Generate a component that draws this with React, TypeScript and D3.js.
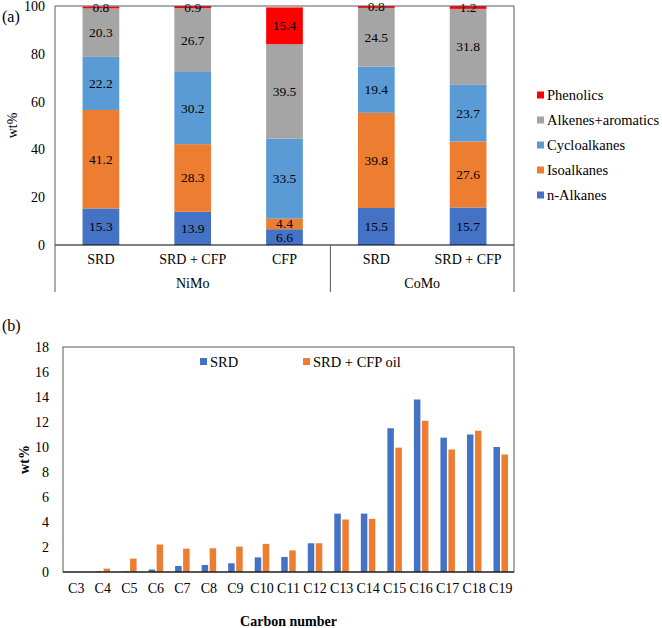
import React from "react";
import * as d3 from "d3";

const topCategories = ["SRD", "SRD + CFP", "CFP", "SRD", "SRD + CFP"];
const topGroups = ["NiMo", "NiMo", "NiMo", "CoMo", "CoMo"];
const seriesNames = ["n-Alkanes", "Isoalkanes", "Cycloalkanes", "Alkenes+aromatics", "Phenolics"];
const nAlkanes = [15.3, 13.9, 6.6, 15.5, 15.7];
const isoalkanes = [41.2, 28.3, 4.4, 39.8, 27.6];
const cycloalkanes = [22.2, 30.2, 33.5, 19.4, 23.7];
const alkenesAromatics = [20.3, 26.7, 39.5, 24.5, 31.8];
const phenolics = [0.8, 0.9, 15.4, 0.8, 1.2];
const topTicks = [0, 20, 40, 60, 80, 100];

const carbonLabels = ["C3", "C4", "C5", "C6", "C7", "C8", "C9", "C10", "C11", "C12", "C13", "C14", "C15", "C16", "C17", "C18", "C19"];
const srdValues = [0, 0.05, 0.05, 0.2, 0.48, 0.56, 0.7, 1.17, 1.2, 2.3, 4.67, 4.67, 11.5, 13.8, 10.75, 11.0, 10.0];
const srdCfpValues = [0, 0.27, 1.07, 2.2, 1.87, 1.9, 2.03, 2.25, 1.73, 2.3, 4.2, 4.25, 9.95, 12.1, 9.8, 11.3, 9.4];
const bottomTicks = [0, 2, 4, 6, 8, 10, 12, 14, 16, 18];

const seriesColors = ["#4472C4", "#ED7D31", "#5B9BD5", "#A5A5A5", "#FF0000"];
const FONT = "Liberation Serif";

function T(props: any) {
  return <text fontFamily={FONT} fill="#000" {...props} />;
}

export default function App() {
  // Top chart
  const tL = 55, tR = 514, tT = 6, tB = 245, tBottomExt = 292;
  const xTop = d3.scaleBand<number>().domain(d3.range(topCategories.length)).range([tL, tR]).paddingInner(0.6).paddingOuter(0.3);
  const yTop = d3.scaleLinear().domain([0, 100]).range([tB, tT]);
  const seriesArrays = [nAlkanes, isoalkanes, cycloalkanes, alkenesAromatics, phenolics];
  const rows = topCategories.map((_, i) => {
    const r: any = { i };
    seriesNames.forEach((s, k) => (r[s] = seriesArrays[k][i]));
    return r;
  });
  const stacked = d3.stack<any>().keys(seriesNames)(rows);
  const bandStep = (tR - tL) / topCategories.length;

  // Bottom chart
  const bL = 63, bR = 514, bT = 347, bB = 572;
  const xBot = d3.scaleBand<string>().domain(carbonLabels).range([bL, bR]);
  const yBot = d3.scaleLinear().domain([0, 18]).range([bB, bT]);
  const barW = 6.5;
  const gap = 1.5;

  const groupNames = ["NiMo", "CoMo"];
  const groupSpans = groupNames.map((g) => {
    const idx = topGroups.map((gg, i) => (gg === g ? i : -1)).filter((i) => i >= 0);
    return { g, start: tL + idx[0] * bandStep, end: tL + (idx[idx.length - 1] + 1) * bandStep };
  });

  return (
    <svg width={662} height={628} style={{ position: "absolute", left: 0, top: 0, background: "#fff" }}>
      <rect x={0} y={0} width={662} height={628} fill="#fff" />
      {/* ===== Top chart ===== */}
      <T x={2} y={22} fontSize={16}>(a)</T>
      <T transform={`translate(17,${(tT + tB) / 2}) rotate(-90)`} textAnchor="middle" fontSize={14}>wt%</T>
      {stacked.map((layer, k) => (
        <g key={k}>
          {layer.map((d, i) => (
            <rect key={i} x={xTop(i)!} width={xTop.bandwidth()} y={yTop(d[1])} height={yTop(d[0]) - yTop(d[1])} fill={seriesColors[k]} />
          ))}
        </g>
      ))}
      {stacked.map((layer, k) => (
        <g key={"l" + k}>
          {layer.map((d, i) => (
            <T key={i} x={xTop(i)! + xTop.bandwidth() / 2} y={yTop((d[0] + d[1]) / 2)} dy="0.33em" textAnchor="middle" fontSize={13.5}>
              {seriesArrays[k][i].toFixed(1)}
            </T>
          ))}
        </g>
      ))}
      {/* frame */}
      <line x1={tL} x2={tR} y1={tT} y2={tT} stroke="#595959" strokeWidth={1} />
      <line x1={tL} x2={tR} y1={tB} y2={tB} stroke="#000" strokeWidth={1} />
      <line x1={tL} x2={tL} y1={tT} y2={tBottomExt} stroke="#595959" strokeWidth={1} />
      <line x1={tR} x2={tR} y1={tT} y2={tBottomExt} stroke="#595959" strokeWidth={1} />
      {groupSpans.slice(0, -1).map((s, i) => (
        <line key={i} x1={s.end} x2={s.end} y1={tB} y2={tBottomExt} stroke="#595959" strokeWidth={1} />
      ))}
      {topTicks.map((t) => (
        <T key={t} x={tL - 10} y={yTop(t)} dy="0.35em" textAnchor="end" fontSize={14}>{t}</T>
      ))}
      {topCategories.map((c, i) => (
        <T key={i} x={xTop(i)! + xTop.bandwidth() / 2} y={264} textAnchor="middle" fontSize={14}>{c}</T>
      ))}
      {groupSpans.map((s) => (
        <T key={s.g} x={(s.start + s.end) / 2} y={288} textAnchor="middle" fontSize={14}>{s.g}</T>
      ))}
      {/* legend */}
      {seriesNames.slice().reverse().map((s, j) => {
        const k = seriesNames.length - 1 - j;
        const y = 95 + j * 25;
        return (
          <g key={s}>
            <rect x={537} y={y - 3.5} width={7} height={7} fill={seriesColors[k]} />
            <T x={547} y={y} dy="0.35em" fontSize={14.5}>{s}</T>
          </g>
        );
      })}

      {/* ===== Bottom chart ===== */}
      <T x={2} y={331} fontSize={16}>(b)</T>
      <T transform={`translate(29,${(bT + bB) / 2}) rotate(-90)`} textAnchor="middle" fontSize={14} fontWeight="bold">wt%</T>
      {carbonLabels.map((c, i) => {
        const cx = xBot(c)! + xBot.bandwidth() / 2;
        return (
          <g key={c}>
            <rect x={cx - gap / 2 - barW} width={barW} y={yBot(srdValues[i])} height={yBot(0) - yBot(srdValues[i])} fill="#4472C4" />
            <rect x={cx + gap / 2} width={barW} y={yBot(srdCfpValues[i])} height={yBot(0) - yBot(srdCfpValues[i])} fill="#ED7D31" />
            <T x={cx} y={593} textAnchor="middle" fontSize={14}>{c}</T>
          </g>
        );
      })}
      <rect x={bL} y={bT} width={bR - bL} height={bB - bT} fill="none" stroke="#595959" strokeWidth={1} />
      <line x1={bL} x2={bR} y1={bB} y2={bB} stroke="#000" strokeWidth={1} />
      {bottomTicks.map((t) => (
        <T key={t} x={bL - 14} y={yBot(t)} dy="0.35em" textAnchor="end" fontSize={14}>{t}</T>
      ))}
      <T x={(bL + bR) / 2} y={626} textAnchor="middle" fontSize={14} fontWeight="bold">Carbon number</T>
      <rect x={200} y={358} width={7} height={7} fill="#4472C4" />
      <T x={210} y={361.5} dy="0.35em" fontSize={14.5}>SRD</T>
      <rect x={303} y={358} width={7} height={7} fill="#ED7D31" />
      <T x={313} y={361.5} dy="0.35em" fontSize={14.5}>SRD + CFP oil</T>
    </svg>
  );
}
